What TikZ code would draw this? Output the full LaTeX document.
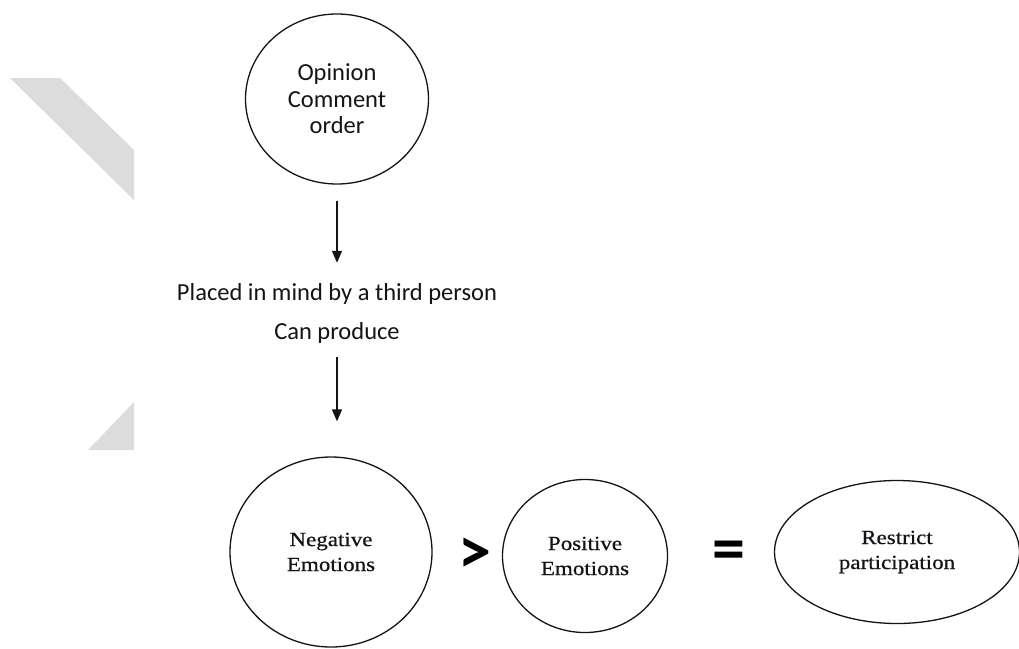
\documentclass[tikz,border=0pt]{standalone}
\usepackage{fontspec}
\setmainfont{Carlito}
\newfontfamily\capserif[FakeStretch=1.15,FakeBold=0.6]{Liberation Serif}
\usetikzlibrary{shapes.geometric,arrows.meta}
\definecolor{ink}{HTML}{141418}
\definecolor{band}{HTML}{DCDCDC}
\tikzset{
  bubble/.style={ellipse, draw=ink, line width=1.3pt, inner sep=0pt, align=center, text=ink},
  toptext/.style={font=\fontsize{24.5}{26.5}\selectfont},
  lowtext/.style={font=\capserif\fontsize{20}{25}\selectfont},
  caption/.style={font=\fontsize{24.5}{26}\selectfont, text=ink, inner sep=0pt, anchor=base},
  relation/.style={font=\bfseries\fontsize{66}{66}\selectfont, text=black, inner sep=0pt},
  flow/.style={draw=ink, line width=1.6pt, -{Triangle[length=12pt,width=10pt]}}
}
\begin{document}
\begin{tikzpicture}[x=1pt,y=-1pt]
\useasboundingbox (0,0) rectangle (1019,648);
\fill[white] (0,0) rectangle (1019,648);

% light grey background bands
\fill[band] (10,78) -- (60,78) -- (134,150) -- (134,200) -- cycle;
\fill[band] (88,450) -- (134,402) -- (134,450) -- cycle;

% top bubble
\node[bubble, minimum width=183pt, minimum height=170pt, toptext] (op) at (337,99)
  {Opinion\\Comment\\order};

% middle captions
\node[caption] (mind) at (337,300) {Placed in mind by a third person};
\node[caption] (prod) at (337,339) {Can produce};

% bottom row
\node[bubble, minimum width=202pt, minimum height=190pt, lowtext] (neg) at (331,552)
  {Negative\\Emotions};
\node[relation] (gt) at (475,556) {>};
\node[bubble, minimum width=165pt, minimum height=153pt, lowtext] (pos) at (585,556)
  {Positive\\Emotions};
\node[relation] (eq) at (729,556) {=};
\node[bubble, minimum width=245pt, minimum height=143pt, lowtext] (res) at (897,552)
  {Restrict\\participation};

% arrows
\draw[flow, shorten <=16pt, shorten >=20pt] (op.south) -- (mind.north);
\draw[flow, shorten <=14pt, shorten >=35pt] (prod.south) -- (prod.south |- neg.north);
\end{tikzpicture}
\end{document}
